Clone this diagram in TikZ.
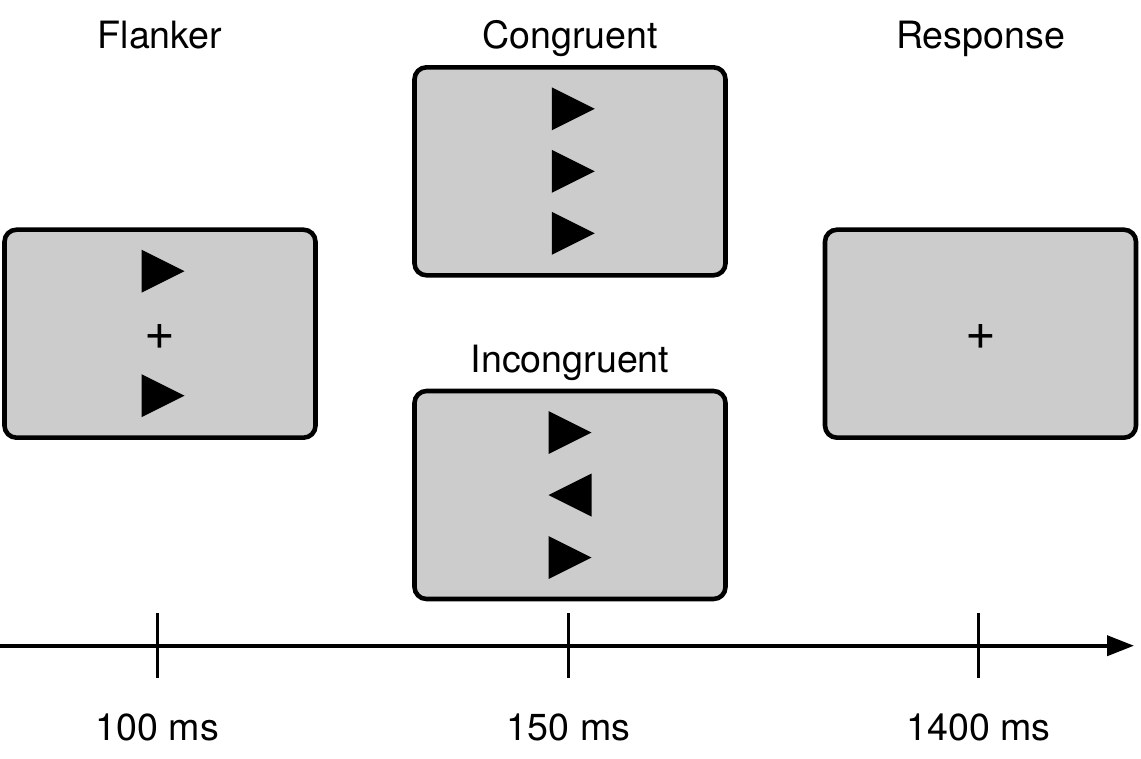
\documentclass[tikz,border=0pt]{standalone}
\usepackage{fontspec}
\setmainfont{TeX Gyre Heros}
\usetikzlibrary{positioning,arrows.meta}
\tikzset{
  screen/.style={draw, line width=1.3pt, fill=black!20, rounded corners=0.12cm,
    minimum width=3.11cm, minimum height=2.08cm, inner sep=0pt, outer sep=0pt},
  title/.style={font=\fontsize{10.7}{13}\selectfont, inner sep=0pt,
    text height=1.55ex, text depth=0.45ex},
  fixation/.style={font=\fontsize{15}{15}\selectfont, inner sep=0pt},
  tick/.style={line width=1pt},
  rtri/.pic={\fill (-0.215,0.215) -- (0.215,0) -- (-0.215,-0.215) -- cycle;},
  ltri/.pic={\fill (0.215,0.215) -- (-0.215,0) -- (0.215,-0.215) -- cycle;},
}
\begin{document}
\begin{tikzpicture}
  \useasboundingbox (0,0) rectangle (11.41,7.58);
  % screens
  \node[screen] (flk) at (1.60,4.243) {};
  \node[screen] (cong) at (5.70,5.867) {};
  \node[screen] (incg) at (5.70,2.63) {};
  \node[screen] (resp) at (9.805,4.243) {};
  % titles
  \node[title, above=0.10cm of cong] (tcong) {Congruent};
  \node[title, above=0.10cm of incg] (tincg) {Incongruent};
  \node[title] (tflk) at (flk |- tcong) {Flanker};
  \node[title] (tresp) at (resp |- tcong) {Response};
  % stimuli
  \pic at ([shift={(0.03,0.625)}]flk.center) {rtri};
  \node[fixation] (fix1) at ([yshift=-0.03cm]flk.center) {+};
  \pic at ([shift={(0.03,-0.62)}]flk.center) {rtri};
  \pic at ([shift={(0.033,0.625)}]cong.center) {rtri};
  \pic at ([shift={(0.033,0)}]cong.center) {rtri};
  \pic at ([shift={(0.033,-0.62)}]cong.center) {rtri};
  \pic at ([shift={(0,0.625)}]incg.center) {rtri};
  \pic at (incg.center) {ltri};
  \pic at ([shift={(0,-0.625)}]incg.center) {rtri};
  \node[fixation] (fix2) at ([yshift=-0.03cm]resp.center) {+};
  % time line
  \coordinate (start) at (0,1.123);
  \coordinate (end) at (11.34,1.123);
  \draw[line width=1.1pt, -{Triangle[length=0.27cm,width=0.2cm]}] (start) -- (end);
  \foreach \x/\t [count=\i] in {1.573/100, 5.685/150, 9.785/1400} {
    \draw[tick] (\x,1.447) -- (\x,0.797) coordinate (tb\i);
    \node[title, below=0.33cm of tb\i] (lab\i) {\t{} ms};
  }
\end{tikzpicture}
\end{document}
